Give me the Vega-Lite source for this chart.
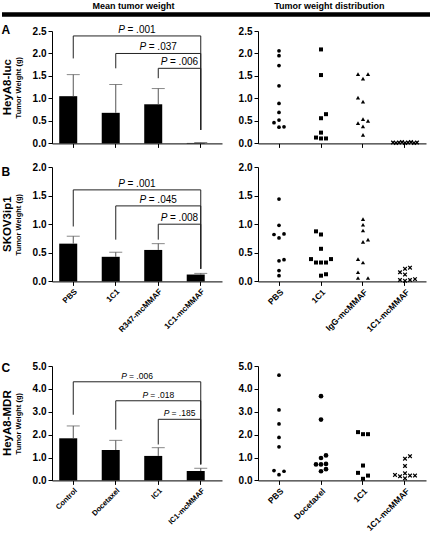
{
  "$schema": "https://vega.github.io/schema/vega-lite/v6.json",
  "padding": {"left": 0, "top": 0, "right": 0, "bottom": 0},
  "config": {
    "view": {"stroke": null},
    "font": "Liberation Sans",
    "axis": {"domainColor": "black", "tickColor": "black", "labelColor": "black", "titleColor": "black", "grid": false, "labelFont": "Liberation Sans", "titleFont": "Liberation Sans", "labelFontWeight": "bold", "labelFontSize": 10, "tickSize": 4, "labelPadding": 2, "labelFlush": false, "labelOverlap": false},
    "axisX": {"labelAngle": -45, "labelFontSize": 8},
    "title": {"font": "Liberation Sans", "color": "black"},
    "text": {"font": "Liberation Sans", "color": "black"}
  },
  "datasets": {
    "barsA": [{"group": "PBS", "mean": 1.05, "err": 1.53}, {"group": "1C1", "mean": 0.68, "err": 1.31}, {"group": "R347-mcMMAF", "mean": 0.87, "err": 1.22}, {"group": "1C1-mcMMAF", "mean": 0.01, "err": 0.02}],
    "brA": [{"p": "= .001", "from": 0, "to": 3, "mid": 1.5, "top": 2.39, "low1": 1.89, "low2": 0.30}, {"p": "= .037", "from": 1, "to": 3, "mid": 2, "top": 2.0, "low1": 1.67, "low2": 0.30}, {"p": "= .006", "from": 2, "to": 3, "mid": 2.5, "top": 1.67, "low1": 1.45, "low2": 0.30}],
    "barsB": [{"group": "PBS", "mean": 0.66, "err": 0.79}, {"group": "1C1", "mean": 0.43, "err": 0.51}, {"group": "R347-mcMMAF", "mean": 0.55, "err": 0.66}, {"group": "1C1-mcMMAF", "mean": 0.12, "err": 0.14}],
    "brB": [{"p": "= .001", "from": 0, "to": 3, "mid": 1.5, "top": 1.6, "low1": 0.96, "low2": 0.22}, {"p": "= .045", "from": 1, "to": 3, "mid": 2, "top": 1.32, "low1": 0.73, "low2": 0.22}, {"p": "= .008", "from": 2, "to": 3, "mid": 2.5, "top": 1.0, "low1": 0.73, "low2": 0.22}],
    "barsC": [{"group": "Control", "mean": 1.84, "err": 2.38}, {"group": "Docetaxel", "mean": 1.33, "err": 1.75}, {"group": "IC1", "mean": 1.07, "err": 1.43}, {"group": "IC1-mcMMAF", "mean": 0.41, "err": 0.53}],
    "brC": [{"p": "= .006", "from": 0, "to": 3, "mid": 1.5, "top": 4.31, "low1": 2.87, "low2": 0.70}, {"p": "= .018", "from": 1, "to": 3, "mid": 2, "top": 3.48, "low1": 2.22, "low2": 0.70}, {"p": "= .185", "from": 2, "to": 3, "mid": 2.5, "top": 2.67, "low1": 1.57, "low2": 0.70}],
    "ptsA": [
      {"group": "PBS", "w": 2.06, "col": 0}, {"group": "PBS", "w": 1.95, "col": 0}, {"group": "PBS", "w": 1.73, "col": 0}, {"group": "PBS", "w": 1.28, "col": 0}, {"group": "PBS", "w": 0.89, "col": 0}, {"group": "PBS", "w": 0.69, "col": 0}, {"group": "PBS", "w": 0.52, "col": 0}, {"group": "PBS", "w": 0.46, "col": -1}, {"group": "PBS", "w": 0.36, "col": 0}, {"group": "PBS", "w": 0.37, "col": 1},
      {"group": "1C1", "w": 2.09, "col": 0}, {"group": "1C1", "w": 1.52, "col": 0}, {"group": "1C1", "w": 0.65, "col": 1}, {"group": "1C1", "w": 0.56, "col": 0}, {"group": "1C1", "w": 0.24, "col": 0}, {"group": "1C1", "w": 0.13, "col": -1}, {"group": "1C1", "w": 0.11, "col": 0}, {"group": "1C1", "w": 0.11, "col": 1},
      {"group": "IgG-mcMMAF", "w": 1.54, "col": -1}, {"group": "IgG-mcMMAF", "w": 1.44, "col": 0}, {"group": "IgG-mcMMAF", "w": 1.54, "col": 1}, {"group": "IgG-mcMMAF", "w": 1.02, "col": -1}, {"group": "IgG-mcMMAF", "w": 0.93, "col": 0}, {"group": "IgG-mcMMAF", "w": 0.54, "col": 0}, {"group": "IgG-mcMMAF", "w": 0.45, "col": -1}, {"group": "IgG-mcMMAF", "w": 0.50, "col": 1}, {"group": "IgG-mcMMAF", "w": 0.38, "col": 0}, {"group": "IgG-mcMMAF", "w": 0.19, "col": 0},
      {"group": "1C1-mcMMAF", "w": 0.02, "col": -2.4}, {"group": "1C1-mcMMAF", "w": 0.01, "col": -1.8}, {"group": "1C1-mcMMAF", "w": 0.02, "col": -1.2}, {"group": "1C1-mcMMAF", "w": 0.03, "col": -0.6}, {"group": "1C1-mcMMAF", "w": 0.01, "col": 0}, {"group": "1C1-mcMMAF", "w": 0.02, "col": 0.6}, {"group": "1C1-mcMMAF", "w": 0.03, "col": 1.2}, {"group": "1C1-mcMMAF", "w": 0.01, "col": 1.8}, {"group": "1C1-mcMMAF", "w": 0.02, "col": 2.4}
    ],
    "ptsB": [
      {"group": "PBS", "w": 1.44, "col": 0}, {"group": "PBS", "w": 0.98, "col": 0}, {"group": "PBS", "w": 0.82, "col": -1}, {"group": "PBS", "w": 0.76, "col": 0}, {"group": "PBS", "w": 0.83, "col": 1}, {"group": "PBS", "w": 0.36, "col": 0}, {"group": "PBS", "w": 0.38, "col": 1}, {"group": "PBS", "w": 0.19, "col": 0}, {"group": "PBS", "w": 0.10, "col": 0},
      {"group": "1C1", "w": 0.875, "col": -1}, {"group": "1C1", "w": 0.82, "col": 0}, {"group": "1C1", "w": 0.57, "col": 0}, {"group": "1C1", "w": 0.39, "col": -2}, {"group": "1C1", "w": 0.33, "col": -1}, {"group": "1C1", "w": 0.33, "col": 0}, {"group": "1C1", "w": 0.33, "col": 1}, {"group": "1C1", "w": 0.39, "col": 2}, {"group": "1C1", "w": 0.10, "col": 0}, {"group": "1C1", "w": 0.125, "col": 1},
      {"group": "IgG-mcMMAF", "w": 1.09, "col": 0}, {"group": "IgG-mcMMAF", "w": 0.99, "col": 0}, {"group": "IgG-mcMMAF", "w": 0.89, "col": 0}, {"group": "IgG-mcMMAF", "w": 0.69, "col": 0}, {"group": "IgG-mcMMAF", "w": 0.73, "col": 1}, {"group": "IgG-mcMMAF", "w": 0.39, "col": -1}, {"group": "IgG-mcMMAF", "w": 0.33, "col": 0}, {"group": "IgG-mcMMAF", "w": 0.16, "col": -1}, {"group": "IgG-mcMMAF", "w": 0.06, "col": -1}, {"group": "IgG-mcMMAF", "w": 0.06, "col": 1},
      {"group": "1C1-mcMMAF", "w": 0.16, "col": -1}, {"group": "1C1-mcMMAF", "w": 0.22, "col": 0}, {"group": "1C1-mcMMAF", "w": 0.24, "col": 1}, {"group": "1C1-mcMMAF", "w": 0.12, "col": 0}, {"group": "1C1-mcMMAF", "w": 0.025, "col": -1}, {"group": "1C1-mcMMAF", "w": 0.01, "col": 0}, {"group": "1C1-mcMMAF", "w": 0.025, "col": 1}, {"group": "1C1-mcMMAF", "w": 0.04, "col": 2}
    ],
    "ptsC": [
      {"group": "PBS", "w": 4.60, "col": 0}, {"group": "PBS", "w": 3.08, "col": 0}, {"group": "PBS", "w": 2.47, "col": 0}, {"group": "PBS", "w": 1.88, "col": 0}, {"group": "PBS", "w": 1.47, "col": 0}, {"group": "PBS", "w": 0.43, "col": -1}, {"group": "PBS", "w": 0.25, "col": 0}, {"group": "PBS", "w": 0.40, "col": 1},
      {"group": "Docetaxel", "w": 3.68, "col": 0}, {"group": "Docetaxel", "w": 2.66, "col": 0}, {"group": "Docetaxel", "w": 1.09, "col": 1}, {"group": "Docetaxel", "w": 0.98, "col": 0}, {"group": "Docetaxel", "w": 0.70, "col": -1}, {"group": "Docetaxel", "w": 0.70, "col": 0}, {"group": "Docetaxel", "w": 0.72, "col": 1}, {"group": "Docetaxel", "w": 0.49, "col": 1}, {"group": "Docetaxel", "w": 0.40, "col": 0},
      {"group": "1C1", "w": 2.11, "col": -1}, {"group": "1C1", "w": 2.02, "col": 0}, {"group": "1C1", "w": 2.02, "col": 1}, {"group": "1C1", "w": 0.65, "col": 0}, {"group": "1C1", "w": 0.33, "col": -1}, {"group": "1C1", "w": 0.21, "col": 1}, {"group": "1C1", "w": 0.07, "col": 0},
      {"group": "1C1-mcMMAF", "w": 0.95, "col": 0}, {"group": "1C1-mcMMAF", "w": 1.06, "col": 1}, {"group": "1C1-mcMMAF", "w": 0.63, "col": 0}, {"group": "1C1-mcMMAF", "w": 0.24, "col": -2}, {"group": "1C1-mcMMAF", "w": 0.18, "col": -1}, {"group": "1C1-mcMMAF", "w": 0.31, "col": 0}, {"group": "1C1-mcMMAF", "w": 0.21, "col": 1}, {"group": "1C1-mcMMAF", "w": 0.21, "col": 2}, {"group": "1C1-mcMMAF", "w": 0.09, "col": 0}
    ]
  },
  "spacing": 6,
  "vconcat": [
    {
      "width": 430, "height": 14.5,
      "data": {"values": [{"h": "Mean tumor weight"}, {"h": "Tumor weight distribution"}]},
      "layer": [
        {"mark": {"type": "text", "fontSize": 9, "fontWeight": "bold", "dy": -1.75},
         "encoding": {"x": {"field": "h", "type": "nominal", "scale": {"type": "band", "paddingInner": 0, "paddingOuter": 0.097, "align": 0.88}, "axis": null}, "text": {"field": "h"}}},
        {"mark": {"type": "rule", "strokeWidth": 4, "color": "black"},
         "encoding": {"y": {"datum": 0, "type": "quantitative", "scale": {"domain": [0, 1]}, "axis": null}}}
      ]
    },
    {
      "spacing": 13,
      "vconcat": [
        {
          "title": {"text": "A", "orient": "top", "anchor": "start", "fontSize": 12, "fontWeight": "bold", "offset": -12},
          "spacing": 16,
          "hconcat": [
            {
              "spacing": 0,
              "hconcat": [
                {"width": 11, "height": 112.4, "data": {"values": [{"name": "HeyA8-luc"}]}, "mark": {"type": "text", "angle": 270, "fontSize": 11.5, "fontWeight": "bold"}, "encoding": {"text": {"field": "name"}}},
                {
                  "width": 170, "height": 112.4,
                  "resolve": {"scale": {"x": "independent"}},
                  "layer": [
                    {
                      "data": {"name": "barsA"},
                      "encoding": {"x": {"field": "group", "type": "nominal", "sort": null, "scale": {"type": "band", "paddingInner": 0.34, "paddingOuter": 0.17}, "axis": {"labels": false, "title": null}}},
                      "layer": [
                        {"mark": {"type": "bar", "color": "black"}, "encoding": {"y": {"field": "mean", "type": "quantitative", "scale": {"domain": [0, 2.5], "nice": false}, "axis": {"values": [0, 0.5, 1, 1.5, 2, 2.5], "format": ".1f", "title": "Tumor Weight (g)", "titleFontSize": 7.5, "titleFontWeight": "bold", "titlePadding": 10}}}},
                        {"mark": {"type": "rule", "color": "#555"}, "encoding": {"y": {"field": "mean", "type": "quantitative", "scale": {"domain": [0, 2.5], "nice": false}, "axis": {"values": [0, 0.5, 1, 1.5, 2, 2.5], "format": ".1f", "title": "Tumor Weight (g)", "titleFontSize": 7.5, "titleFontWeight": "bold", "titlePadding": 10}}, "y2": {"field": "err"}}},
                        {"mark": {"type": "tick", "color": "#555", "size": 13, "thickness": 1}, "encoding": {"y": {"field": "err", "type": "quantitative", "scale": {"domain": [0, 2.5], "nice": false}, "axis": {"values": [0, 0.5, 1, 1.5, 2, 2.5], "format": ".1f", "title": "Tumor Weight (g)", "titleFontSize": 7.5, "titleFontWeight": "bold", "titlePadding": 10}}}}
                      ]
                    },
                    {
                      "data": {"name": "brA"},
                      "layer": [
                        {"mark": {"type": "rule", "color": "#222"}, "encoding": {"x": {"field": "from", "type": "quantitative", "scale": {"domain": [-0.5, 3.5], "nice": false, "zero": false}, "axis": null}, "x2": {"field": "to"}, "y": {"field": "top", "type": "quantitative", "scale": {"domain": [0, 2.5], "nice": false}, "axis": {"values": [0, 0.5, 1, 1.5, 2, 2.5], "format": ".1f", "title": "Tumor Weight (g)", "titleFontSize": 7.5, "titleFontWeight": "bold", "titlePadding": 10}}}},
                        {"mark": {"type": "rule", "color": "#222"}, "encoding": {"x": {"field": "from", "type": "quantitative", "scale": {"domain": [-0.5, 3.5], "nice": false, "zero": false}, "axis": null}, "y": {"field": "low1", "type": "quantitative", "scale": {"domain": [0, 2.5], "nice": false}, "axis": {"values": [0, 0.5, 1, 1.5, 2, 2.5], "format": ".1f", "title": "Tumor Weight (g)", "titleFontSize": 7.5, "titleFontWeight": "bold", "titlePadding": 10}}, "y2": {"field": "top"}}},
                        {"mark": {"type": "rule", "color": "#222"}, "encoding": {"x": {"field": "to", "type": "quantitative", "scale": {"domain": [-0.5, 3.5], "nice": false, "zero": false}, "axis": null}, "y": {"field": "low2", "type": "quantitative", "scale": {"domain": [0, 2.5], "nice": false}, "axis": {"values": [0, 0.5, 1, 1.5, 2, 2.5], "format": ".1f", "title": "Tumor Weight (g)", "titleFontSize": 7.5, "titleFontWeight": "bold", "titlePadding": 10}}, "y2": {"field": "top"}}},
                        {"mark": {"type": "text", "text": "P", "fontStyle": "italic", "fontSize": 10, "align": "right", "baseline": "bottom", "dx": -12, "dy": -1}, "encoding": {"x": {"field": "mid", "type": "quantitative", "scale": {"domain": [-0.5, 3.5], "nice": false, "zero": false}, "axis": null}, "y": {"field": "top", "type": "quantitative", "scale": {"domain": [0, 2.5], "nice": false}, "axis": {"values": [0, 0.5, 1, 1.5, 2, 2.5], "format": ".1f", "title": "Tumor Weight (g)", "titleFontSize": 7.5, "titleFontWeight": "bold", "titlePadding": 10}}}},
                        {"mark": {"type": "text", "fontSize": 10, "align": "left", "baseline": "bottom", "dx": -9.5, "dy": -1}, "encoding": {"x": {"field": "mid", "type": "quantitative", "scale": {"domain": [-0.5, 3.5], "nice": false, "zero": false}, "axis": null}, "y": {"field": "top", "type": "quantitative", "scale": {"domain": [0, 2.5], "nice": false}, "axis": {"values": [0, 0.5, 1, 1.5, 2, 2.5], "format": ".1f", "title": "Tumor Weight (g)", "titleFontSize": 7.5, "titleFontWeight": "bold", "titlePadding": 10}}, "text": {"field": "p"}}}
                      ]
                    }
                  ]
                }
              ]
            },
            {
              "width": 168, "height": 112.4,
              "data": {"name": "ptsA"},
              "mark": {"type": "point", "filled": true, "color": "black", "opacity": 1},
              "encoding": {
                "x": {"field": "group", "type": "nominal", "sort": ["PBS", "1C1", "IgG-mcMMAF", "1C1-mcMMAF"], "scale": {"type": "band", "paddingInner": 0.2857, "paddingOuter": 0.1429}, "axis": {"labels": false, "title": null}},
                "xOffset": {"field": "col", "type": "quantitative", "scale": {"domain": [-3, 3]}},
                "y": {"field": "w", "type": "quantitative", "scale": {"domain": [0, 2.5], "nice": false}, "axis": {"values": [0, 0.5, 1, 1.5, 2, 2.5], "format": ".1f", "title": null}},
                "shape": {"field": "group", "type": "nominal", "scale": {"domain": ["PBS", "1C1", "IgG-mcMMAF", "1C1-mcMMAF"], "range": ["circle", "square", "triangle-up", "M-1,-0.6L-0.6,-1L0,-0.4L0.6,-1L1,-0.6L0.4,0L1,0.6L0.6,1L0,0.4L-0.6,1L-1,0.6L-0.4,0Z"]}, "legend": null},
                "size": {"field": "group", "type": "nominal", "scale": {"domain": ["PBS", "1C1", "IgG-mcMMAF", "1C1-mcMMAF"], "range": [14, 22, 18, 12]}, "legend": null}
              }
            }
          ]
        },
        {
          "spacing": 27,
          "vconcat": [
            {
              "title": {"text": "B", "orient": "top", "anchor": "start", "fontSize": 12, "fontWeight": "bold", "offset": -17},
              "spacing": 16,
              "hconcat": [
                {
                  "spacing": 0,
                  "hconcat": [
                    {"width": 11, "height": 114.4, "data": {"values": [{"name": "SKOV3ip1"}]}, "mark": {"type": "text", "angle": 270, "fontSize": 11.5, "fontWeight": "bold"}, "encoding": {"text": {"field": "name"}}},
                    {
                      "width": 170, "height": 114.4,
                      "resolve": {"scale": {"x": "independent"}},
                      "layer": [
                        {
                          "data": {"name": "barsB"},
                          "encoding": {"x": {"field": "group", "type": "nominal", "sort": null, "scale": {"type": "band", "paddingInner": 0.34, "paddingOuter": 0.17}, "axis": {"title": null}}},
                          "layer": [
                            {"mark": {"type": "bar", "color": "black"}, "encoding": {"y": {"field": "mean", "type": "quantitative", "scale": {"domain": [0, 2], "nice": false}, "axis": {"values": [0, 0.5, 1, 1.5, 2], "format": ".1f", "title": "Tumor Weight (g)", "titleFontSize": 7.5, "titleFontWeight": "bold", "titlePadding": 10}}}},
                            {"mark": {"type": "rule", "color": "#555"}, "encoding": {"y": {"field": "mean", "type": "quantitative", "scale": {"domain": [0, 2], "nice": false}, "axis": {"values": [0, 0.5, 1, 1.5, 2], "format": ".1f", "title": "Tumor Weight (g)", "titleFontSize": 7.5, "titleFontWeight": "bold", "titlePadding": 10}}, "y2": {"field": "err"}}},
                            {"mark": {"type": "tick", "color": "#555", "size": 13, "thickness": 1}, "encoding": {"y": {"field": "err", "type": "quantitative", "scale": {"domain": [0, 2], "nice": false}, "axis": {"values": [0, 0.5, 1, 1.5, 2], "format": ".1f", "title": "Tumor Weight (g)", "titleFontSize": 7.5, "titleFontWeight": "bold", "titlePadding": 10}}}}
                          ]
                        },
                        {
                          "data": {"name": "brB"},
                          "layer": [
                            {"mark": {"type": "rule", "color": "#222"}, "encoding": {"x": {"field": "from", "type": "quantitative", "scale": {"domain": [-0.5, 3.5], "nice": false, "zero": false}, "axis": null}, "x2": {"field": "to"}, "y": {"field": "top", "type": "quantitative", "scale": {"domain": [0, 2], "nice": false}, "axis": {"values": [0, 0.5, 1, 1.5, 2], "format": ".1f", "title": "Tumor Weight (g)", "titleFontSize": 7.5, "titleFontWeight": "bold", "titlePadding": 10}}}},
                            {"mark": {"type": "rule", "color": "#222"}, "encoding": {"x": {"field": "from", "type": "quantitative", "scale": {"domain": [-0.5, 3.5], "nice": false, "zero": false}, "axis": null}, "y": {"field": "low1", "type": "quantitative", "scale": {"domain": [0, 2], "nice": false}, "axis": {"values": [0, 0.5, 1, 1.5, 2], "format": ".1f", "title": "Tumor Weight (g)", "titleFontSize": 7.5, "titleFontWeight": "bold", "titlePadding": 10}}, "y2": {"field": "top"}}},
                            {"mark": {"type": "rule", "color": "#222"}, "encoding": {"x": {"field": "to", "type": "quantitative", "scale": {"domain": [-0.5, 3.5], "nice": false, "zero": false}, "axis": null}, "y": {"field": "low2", "type": "quantitative", "scale": {"domain": [0, 2], "nice": false}, "axis": {"values": [0, 0.5, 1, 1.5, 2], "format": ".1f", "title": "Tumor Weight (g)", "titleFontSize": 7.5, "titleFontWeight": "bold", "titlePadding": 10}}, "y2": {"field": "top"}}},
                            {"mark": {"type": "text", "text": "P", "fontStyle": "italic", "fontSize": 10, "align": "right", "baseline": "bottom", "dx": -12, "dy": -1}, "encoding": {"x": {"field": "mid", "type": "quantitative", "scale": {"domain": [-0.5, 3.5], "nice": false, "zero": false}, "axis": null}, "y": {"field": "top", "type": "quantitative", "scale": {"domain": [0, 2], "nice": false}, "axis": {"values": [0, 0.5, 1, 1.5, 2], "format": ".1f", "title": "Tumor Weight (g)", "titleFontSize": 7.5, "titleFontWeight": "bold", "titlePadding": 10}}}},
                            {"mark": {"type": "text", "fontSize": 10, "align": "left", "baseline": "bottom", "dx": -9.5, "dy": -1}, "encoding": {"x": {"field": "mid", "type": "quantitative", "scale": {"domain": [-0.5, 3.5], "nice": false, "zero": false}, "axis": null}, "y": {"field": "top", "type": "quantitative", "scale": {"domain": [0, 2], "nice": false}, "axis": {"values": [0, 0.5, 1, 1.5, 2], "format": ".1f", "title": "Tumor Weight (g)", "titleFontSize": 7.5, "titleFontWeight": "bold", "titlePadding": 10}}, "text": {"field": "p"}}}
                          ]
                        }
                      ]
                    }
                  ]
                },
                {
                  "width": 168, "height": 114.4,
                  "data": {"name": "ptsB"},
                  "mark": {"type": "point", "filled": true, "color": "black", "opacity": 1},
                  "encoding": {
                    "x": {"field": "group", "type": "nominal", "sort": ["PBS", "1C1", "IgG-mcMMAF", "1C1-mcMMAF"], "scale": {"type": "band", "paddingInner": 0.2857, "paddingOuter": 0.1429}, "axis": {"title": null, "labelFontSize": 8.5}},
                    "xOffset": {"field": "col", "type": "quantitative", "scale": {"domain": [-3, 3]}},
                    "y": {"field": "w", "type": "quantitative", "scale": {"domain": [0, 2], "nice": false}, "axis": {"values": [0, 0.5, 1, 1.5, 2], "format": ".1f", "title": null}},
                    "shape": {"field": "group", "type": "nominal", "scale": {"domain": ["PBS", "1C1", "IgG-mcMMAF", "1C1-mcMMAF"], "range": ["circle", "square", "triangle-up", "M-1,-0.6L-0.6,-1L0,-0.4L0.6,-1L1,-0.6L0.4,0L1,0.6L0.6,1L0,0.4L-0.6,1L-1,0.6L-0.4,0Z"]}, "legend": null},
                    "size": {"field": "group", "type": "nominal", "scale": {"domain": ["PBS", "1C1", "IgG-mcMMAF", "1C1-mcMMAF"], "range": [14, 22, 18, 12]}, "legend": null}
                  }
                }
              ]
            },
            {
              "title": {"text": "C", "orient": "top", "anchor": "start", "fontSize": 12, "fontWeight": "bold", "offset": -14},
              "spacing": 16,
              "hconcat": [
                {
                  "spacing": 0,
                  "hconcat": [
                    {"width": 11, "height": 114.4, "data": {"values": [{"name": "HeyA8-MDR"}]}, "mark": {"type": "text", "angle": 270, "fontSize": 11.5, "fontWeight": "bold"}, "encoding": {"text": {"field": "name"}}},
                    {
                      "width": 170, "height": 114.4,
                      "resolve": {"scale": {"x": "independent"}},
                      "layer": [
                        {
                          "data": {"name": "barsC"},
                          "encoding": {"x": {"field": "group", "type": "nominal", "sort": null, "scale": {"type": "band", "paddingInner": 0.34, "paddingOuter": 0.17}, "axis": {"title": null, "labelFontSize": 7.5}}},
                          "layer": [
                            {"mark": {"type": "bar", "color": "black"}, "encoding": {"y": {"field": "mean", "type": "quantitative", "scale": {"domain": [0, 5], "nice": false}, "axis": {"values": [0, 1, 2, 3, 4, 5], "format": ".1f", "title": "Tumor Weight (g)", "titleFontSize": 7.5, "titleFontWeight": "bold", "titlePadding": 10}}}},
                            {"mark": {"type": "rule", "color": "#555"}, "encoding": {"y": {"field": "mean", "type": "quantitative", "scale": {"domain": [0, 5], "nice": false}, "axis": {"values": [0, 1, 2, 3, 4, 5], "format": ".1f", "title": "Tumor Weight (g)", "titleFontSize": 7.5, "titleFontWeight": "bold", "titlePadding": 10}}, "y2": {"field": "err"}}},
                            {"mark": {"type": "tick", "color": "#555", "size": 13, "thickness": 1}, "encoding": {"y": {"field": "err", "type": "quantitative", "scale": {"domain": [0, 5], "nice": false}, "axis": {"values": [0, 1, 2, 3, 4, 5], "format": ".1f", "title": "Tumor Weight (g)", "titleFontSize": 7.5, "titleFontWeight": "bold", "titlePadding": 10}}}}
                          ]
                        },
                        {
                          "data": {"name": "brC"},
                          "layer": [
                            {"mark": {"type": "rule", "color": "#222"}, "encoding": {"x": {"field": "from", "type": "quantitative", "scale": {"domain": [-0.5, 3.5], "nice": false, "zero": false}, "axis": null}, "x2": {"field": "to"}, "y": {"field": "top", "type": "quantitative", "scale": {"domain": [0, 5], "nice": false}, "axis": {"values": [0, 1, 2, 3, 4, 5], "format": ".1f", "title": "Tumor Weight (g)", "titleFontSize": 7.5, "titleFontWeight": "bold", "titlePadding": 10}}}},
                            {"mark": {"type": "rule", "color": "#222"}, "encoding": {"x": {"field": "from", "type": "quantitative", "scale": {"domain": [-0.5, 3.5], "nice": false, "zero": false}, "axis": null}, "y": {"field": "low1", "type": "quantitative", "scale": {"domain": [0, 5], "nice": false}, "axis": {"values": [0, 1, 2, 3, 4, 5], "format": ".1f", "title": "Tumor Weight (g)", "titleFontSize": 7.5, "titleFontWeight": "bold", "titlePadding": 10}}, "y2": {"field": "top"}}},
                            {"mark": {"type": "rule", "color": "#222"}, "encoding": {"x": {"field": "to", "type": "quantitative", "scale": {"domain": [-0.5, 3.5], "nice": false, "zero": false}, "axis": null}, "y": {"field": "low2", "type": "quantitative", "scale": {"domain": [0, 5], "nice": false}, "axis": {"values": [0, 1, 2, 3, 4, 5], "format": ".1f", "title": "Tumor Weight (g)", "titleFontSize": 7.5, "titleFontWeight": "bold", "titlePadding": 10}}, "y2": {"field": "top"}}},
                            {"mark": {"type": "text", "text": "P", "fontStyle": "italic", "fontSize": 8.5, "align": "right", "baseline": "bottom", "dx": -10, "dy": -1}, "encoding": {"x": {"field": "mid", "type": "quantitative", "scale": {"domain": [-0.5, 3.5], "nice": false, "zero": false}, "axis": null}, "y": {"field": "top", "type": "quantitative", "scale": {"domain": [0, 5], "nice": false}, "axis": {"values": [0, 1, 2, 3, 4, 5], "format": ".1f", "title": "Tumor Weight (g)", "titleFontSize": 7.5, "titleFontWeight": "bold", "titlePadding": 10}}}},
                            {"mark": {"type": "text", "fontSize": 8.5, "align": "left", "baseline": "bottom", "dx": -8, "dy": -1}, "encoding": {"x": {"field": "mid", "type": "quantitative", "scale": {"domain": [-0.5, 3.5], "nice": false, "zero": false}, "axis": null}, "y": {"field": "top", "type": "quantitative", "scale": {"domain": [0, 5], "nice": false}, "axis": {"values": [0, 1, 2, 3, 4, 5], "format": ".1f", "title": "Tumor Weight (g)", "titleFontSize": 7.5, "titleFontWeight": "bold", "titlePadding": 10}}, "text": {"field": "p"}}}
                          ]
                        }
                      ]
                    }
                  ]
                },
                {
                  "width": 168, "height": 114.4,
                  "data": {"name": "ptsC"},
                  "mark": {"type": "point", "filled": true, "color": "black", "opacity": 1},
                  "encoding": {
                    "x": {"field": "group", "type": "nominal", "sort": ["PBS", "Docetaxel", "1C1", "1C1-mcMMAF"], "scale": {"type": "band", "paddingInner": 0.2857, "paddingOuter": 0.1429}, "axis": {"title": null, "labelFontSize": 8.5}},
                    "xOffset": {"field": "col", "type": "quantitative", "scale": {"domain": [-3, 3]}},
                    "y": {"field": "w", "type": "quantitative", "scale": {"domain": [0, 5], "nice": false}, "axis": {"values": [0, 1, 2, 3, 4, 5], "format": ".1f", "title": null}},
                    "shape": {"field": "group", "type": "nominal", "scale": {"domain": ["PBS", "Docetaxel", "1C1", "1C1-mcMMAF"], "range": ["circle", "triangle-down", "square", "M-1,-0.6L-0.6,-1L0,-0.4L0.6,-1L1,-0.6L0.4,0L1,0.6L0.6,1L0,0.4L-0.6,1L-1,0.6L-0.4,0Z"]}, "legend": null},
                    "size": {"field": "group", "type": "nominal", "scale": {"domain": ["PBS", "Docetaxel", "1C1", "1C1-mcMMAF"], "range": [14, 18, 22, 12]}, "legend": null}
                  }
                }
              ]
            }
          ]
        }
      ]
    }
  ]
}
